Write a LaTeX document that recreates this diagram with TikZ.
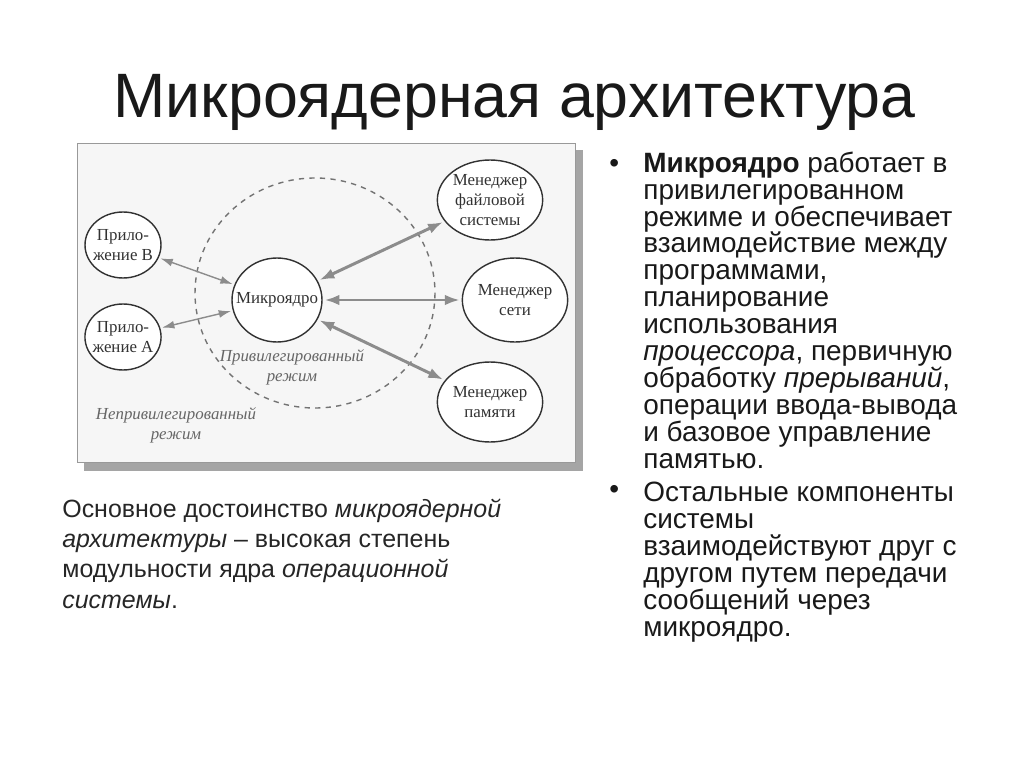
\documentclass[tikz,border=0pt]{standalone}
\usepackage{fontspec}
\setmainfont{Liberation Sans}
\newfontfamily\schemefont{Liberation Serif}
\usepackage{xcolor}
\usepackage{tikz}
\usetikzlibrary{shapes.geometric, positioning, arrows.meta}
\definecolor{inkgray}{RGB}{50,50,50}
\definecolor{panelfill}{RGB}{246,246,246}
\definecolor{shadowgray}{RGB}{165,165,165}
\definecolor{linkgray}{RGB}{140,140,140}

\begin{document}
\begin{tikzpicture}[x=0.02cm, y=-0.02cm,
  every node/.style={inner sep=0pt},
  heading/.style={font=\fontsize{35.7}{40}\selectfont, text=black!90, anchor=base west},
  body/.style={font=\fontsize{15.9}{15.3}\selectfont, text=black!90,
               align=left, anchor=base west},
  note/.style={font=\fontsize{14.2}{17.2}\selectfont, text=black!85,
               align=left, anchor=base west},
  unit/.style={ellipse, draw=inkgray, line width=0.8pt, fill=white,
               font=\schemefont\fontsize{9.6}{11.3}\selectfont,
               text=inkgray, align=center},
  mode/.style={font=\schemefont\itshape\fontsize{9.6}{11.3}\selectfont,
               text=black!60, align=center},
  lightlink/.style={{Latex[length=7pt,width=4.5pt]}-{Latex[length=7pt,width=4.5pt]},
                    linkgray, line width=0.8pt, shorten >=1pt, shorten <=1pt},
  heavylink/.style={{Latex[length=8.5pt,width=6pt]}-{Latex[length=8.5pt,width=6pt]},
                    linkgray, line width=1.7pt, shorten >=1pt, shorten <=1pt}]
\useasboundingbox (0,0) rectangle (1024,767);

% title
\node[heading] (title) at (113,117) {Микроядерная архитектура};

% scheme panel
\fill[shadowgray] (84,150) rectangle (583,471);
\draw[black!40, fill=panelfill] (77,143) rectangle (575,462);
\draw[black!55, dashed, line width=0.8pt] (315,293) ellipse [x radius=120, y radius=115];

\node[unit, minimum width=1.8cm, minimum height=1.68cm, inner xsep=-6pt] (kernel) at (277,300) {Микроядро};
\node[unit, minimum width=1.52cm, minimum height=1.32cm, inner xsep=-2pt] (appB) at (123,245) {Прило-\\жение В};
\node[unit, minimum width=1.52cm, minimum height=1.32cm, inner xsep=-2pt] (appA) at (123,337) {Прило-\\жение А};
\node[unit, minimum width=2.08cm, minimum height=1.6cm] (fsman) at (490,200) {Менеджер\\файловой\\системы};
\node[unit, minimum width=2.08cm, minimum height=1.68cm] (netman) at (515,300) {Менеджер\\сети};
\node[unit, minimum width=2.08cm, minimum height=1.6cm] (memman) at (490,402) {Менеджер\\памяти};

\node[mode] (privmode) at (292,367) {Привилегированный\\режим};
\node[mode] (userpmode) at (176,425) {Непривилегированный\\режим};

\draw[lightlink] (appB) -- (kernel);
\draw[lightlink] (appA) -- (kernel);
\draw[heavylink] (kernel) -- (fsman);
\draw[heavylink] (kernel) -- (netman);
\draw[heavylink] (kernel) -- (memman);

% right column (nodes anchored at the baseline of their last line)
\node[body] (dotA) at (609,173) {•};
\node[body] (itemA) at (643,468) {\textbf{Микроядро} работает в\\привилегированном\\режиме и обеспечивает\\взаимодействие между\\программами,\\планирование\\использования\\\textit{процессора}, первичную\\обработку \textit{прерываний},\\операции ввода-вывода\\и базовое управление\\памятью.};
\node[body] (dotB) at (609,498) {•};
\node[body] (itemB) at (643,636) {Остальные компоненты\\системы\\взаимодействуют друг с\\другом путем передачи\\сообщений через\\микроядро.};

% bottom left note
\node[note] (summary) at (62,608) {Основное достоинство \textit{микроядерной}\\\textit{архитектуры} – высокая степень\\модульности ядра \textit{операционной}\\\textit{системы}.};
\end{tikzpicture}
\end{document}
